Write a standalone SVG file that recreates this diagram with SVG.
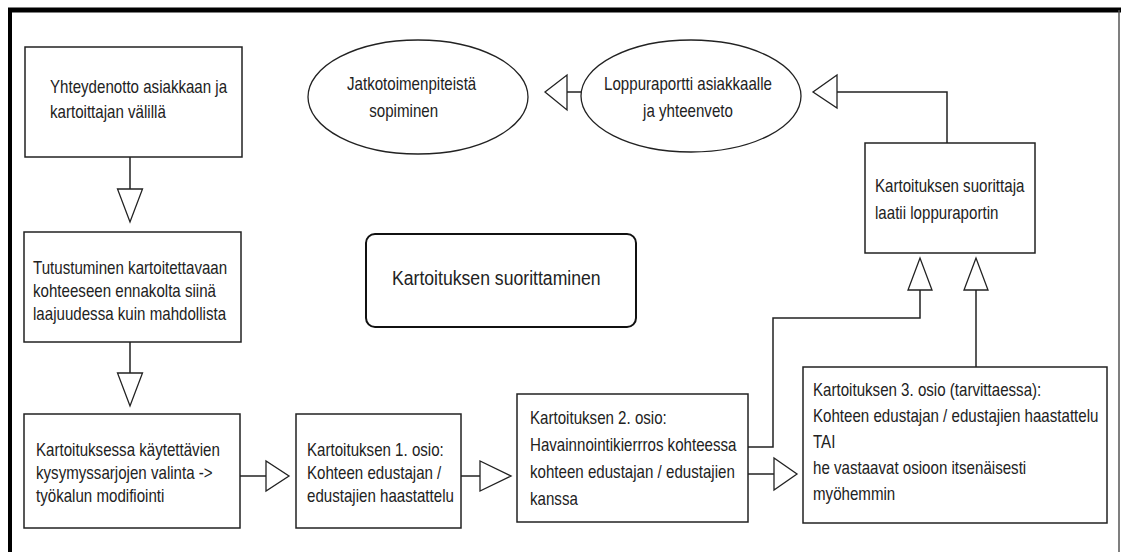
<svg xmlns="http://www.w3.org/2000/svg" width="1123" height="552" viewBox="0 0 1123 552">
<style>
.box{fill:#fff;stroke:#222;stroke-width:1.5}
.ell{fill:#fff;stroke:#222;stroke-width:1.3}
.ln{fill:none;stroke:#222;stroke-width:1.5}
.tri{fill:#fff;stroke:#222;stroke-width:1.3;stroke-linejoin:miter}
.t{font-family:"Liberation Sans",Arial,sans-serif;font-size:19px;fill:#222}
.tt{font-family:"Liberation Sans",Arial,sans-serif;font-size:21px;fill:#222}
</style>
<rect x="0" y="0" width="1123" height="552" fill="#fff"/>
<g id="frame">
<line x1="8" y1="10" x2="1121" y2="10" stroke="#000" stroke-width="5"/>
<line x1="10" y1="8" x2="10" y2="552" stroke="#000" stroke-width="4"/>
<line x1="1119" y1="10" x2="1119" y2="552" stroke="#555" stroke-width="1.5"/>
</g>
<g id="connectors">
<line class="ln" x1="130" y1="157" x2="130" y2="189"/>
<polygon class="tri" points="117.5,189 142.5,189 130,222"/>
<line class="ln" x1="130" y1="342" x2="130" y2="373"/>
<polygon class="tri" points="117.5,373 142.5,373 130,406"/>
<line class="ln" x1="240" y1="476" x2="266" y2="476"/>
<polygon class="tri" points="266,461 266,491 289,476"/>
<line class="ln" x1="461" y1="476" x2="480" y2="476"/>
<polygon class="tri" points="480,461 480,491 511,476"/>
<line class="ln" x1="748" y1="474" x2="774" y2="474"/>
<polygon class="tri" points="774,458 774,490 797,474"/>
<polyline class="ln" points="748,447 773,447 773,318 920,318 920,290"/>
<polygon class="tri" points="908,290 932,290 920,258"/>
<line class="ln" x1="976" y1="367" x2="976" y2="290"/>
<polygon class="tri" points="964,290 988,290 976,258"/>
<polyline class="ln" points="947,143 947,92 837,92"/>
<polygon class="tri" points="837,75 837,108 813,92"/>
<line class="ln" x1="582" y1="92" x2="567" y2="92"/>
<polygon class="tri" points="567,75 567,110 545,92"/>
</g>
<g id="n1">
<rect class="box" x="25" y="47" width="217" height="110"/>
<text class="t" transform="translate(50,93) scale(0.795,1)"><tspan x="0" y="0">Yhteydenotto asiakkaan ja</tspan><tspan x="0" y="25">kartoittajan välillä</tspan></text>
</g>
<g id="n2">
<rect class="box" x="24" y="232" width="217" height="110"/>
<text class="t" transform="translate(33,274) scale(0.795,1)"><tspan x="0" y="0">Tutustuminen kartoitettavaan</tspan><tspan x="0" y="23">kohteeseen ennakolta siinä</tspan><tspan x="0" y="46">laajuudessa kuin mahdollista</tspan></text>
</g>
<g id="n3">
<rect class="box" x="24" y="414" width="216" height="114"/>
<text class="t" transform="translate(36,456) scale(0.795,1)"><tspan x="0" y="0">Kartoituksessa käytettävien</tspan><tspan x="0" y="23">kysymyssarjojen valinta -&gt;</tspan><tspan x="0" y="46">työkalun modifiointi</tspan></text>
</g>
<g id="n4">
<rect class="box" x="296" y="414" width="165" height="114"/>
<text class="t" transform="translate(307,456) scale(0.795,1)"><tspan x="0" y="0">Kartoituksen 1. osio:</tspan><tspan x="0" y="23">Kohteen edustajan /</tspan><tspan x="0" y="46">edustajien haastattelu</tspan></text>
</g>
<g id="n5">
<rect class="box" x="517" y="394" width="231" height="128"/>
<text class="t" transform="translate(530,424) scale(0.795,1)"><tspan x="0" y="0">Kartoituksen 2. osio:</tspan><tspan x="0" y="27">Havainnointikierrros kohteessa</tspan><tspan x="0" y="54">kohteen edustajan / edustajien</tspan><tspan x="0" y="81">kanssa</tspan></text>
</g>
<g id="n6">
<rect class="box" x="803" y="367" width="304" height="156"/>
<text class="t" transform="translate(813,396) scale(0.795,1)"><tspan x="0" y="0">Kartoituksen 3. osio (tarvittaessa):</tspan><tspan x="0" y="26">Kohteen edustajan / edustajien haastattelu</tspan><tspan x="0" y="52">TAI</tspan><tspan x="0" y="78">he vastaavat osioon itsenäisesti</tspan><tspan x="0" y="104">myöhemmin</tspan></text>
</g>
<g id="n7">
<rect class="box" x="865" y="143" width="170" height="110"/>
<text class="t" transform="translate(875,192) scale(0.795,1)"><tspan x="0" y="0">Kartoituksen suorittaja</tspan><tspan x="0" y="27">laatii loppuraportin</tspan></text>
</g>
<g id="e1">
<ellipse class="ell" cx="418" cy="97" rx="110" ry="57"/>
<text class="t" transform="translate(347,90) scale(0.795,1)"><tspan x="0" y="0">Jatkotoimenpiteistä</tspan><tspan x="28" y="27">sopiminen</tspan></text>
</g>
<g id="e2">
<ellipse class="ell" cx="691" cy="96" rx="110" ry="56"/>
<text class="t" text-anchor="middle" transform="translate(688,90) scale(0.795,1)"><tspan x="0" y="0">Loppuraportti asiakkaalle</tspan><tspan x="0" y="27">ja yhteenveto</tspan></text>
</g>
<g id="title">
<rect x="366" y="234" width="270" height="93" rx="9" ry="9" fill="#fff" stroke="#111" stroke-width="2"/>
<text class="tt" transform="translate(392,285) scale(0.84,1)">Kartoituksen suorittaminen</text>
</g>
</svg>
